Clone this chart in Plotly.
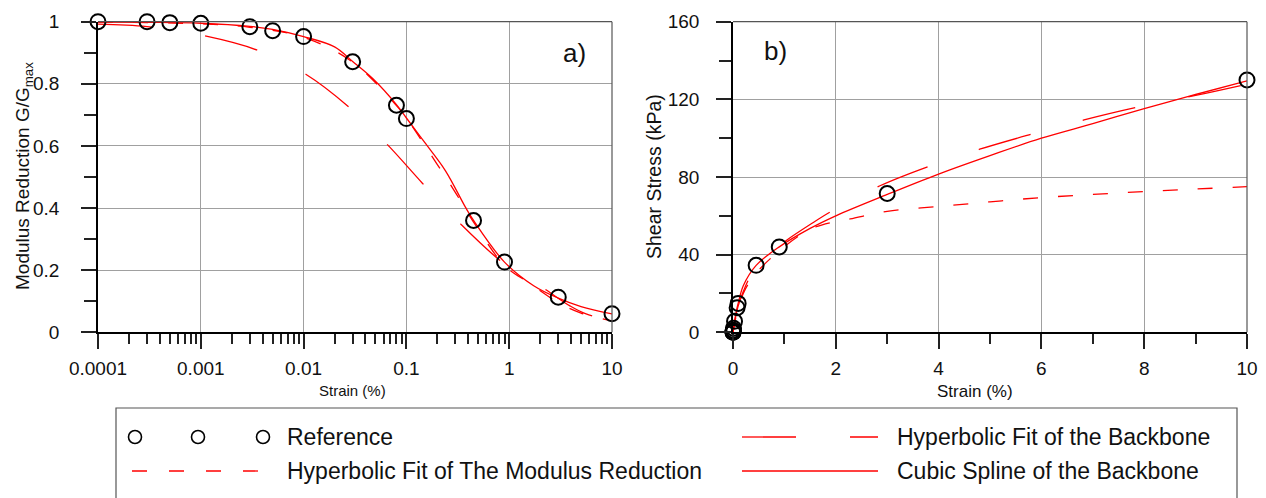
import plotly.graph_objects as go

# ---------------- data ----------------
strain_ref = [0.0001, 0.0003, 0.0005, 0.001, 0.003, 0.005, 0.01, 0.03, 0.08, 0.1, 0.45, 0.9, 3, 10]
ggmax_ref = [1.0, 1.0, 0.997, 0.995, 0.984, 0.971, 0.952, 0.871, 0.731, 0.688, 0.360, 0.226, 0.113, 0.060]
stress_ref = [0.02, 0.065, 0.11, 0.22, 0.64, 1.05, 2.1, 5.7, 12.7, 14.9, 34.5, 44.0, 71.5, 130.0]

# cubic spline of the backbone, shown as modulus reduction (panel a)
spline_strain_a = [0.0001, 0.0003, 0.001, 0.003, 0.005, 0.01, 0.02, 0.03, 0.047, 0.08, 0.1,
                   0.15, 0.24, 0.375, 0.45, 0.9, 1.73, 3.0, 5.0, 10]
spline_ggmax_a = [0.999, 0.998, 0.995, 0.985, 0.975, 0.952, 0.919, 0.872, 0.817, 0.733, 0.690,
                  0.612, 0.520, 0.403, 0.360, 0.226, 0.150, 0.110, 0.083, 0.059]

# hyperbolic fit of the backbone (panel a)
bb_strain_a = [0.0001, 0.0003, 0.001, 0.0035, 0.0105, 0.027, 0.065, 0.143, 0.336, 0.9,
               2.2, 3.9, 5.6, 10]
bb_ggmax_a = [0.992, 0.984, 0.957, 0.909, 0.831, 0.728, 0.605, 0.480, 0.349, 0.220,
              0.140, 0.085, 0.059, 0.040]

# hyperbolic fit of the modulus reduction (panel a)
md_strain_a = [0.0001, 0.001, 0.003, 0.01, 0.03, 0.08, 0.1, 0.2, 0.3, 0.45, 0.9, 1.58, 3, 5, 10]
md_ggmax_a = [0.999, 0.993, 0.982, 0.950, 0.870, 0.730, 0.690, 0.540, 0.450, 0.355, 0.215,
              0.158, 0.096, 0.062, 0.037]

# cubic spline of the backbone (panel b)
spline_strain_b = [0, 0.03, 0.08, 0.1, 0.2, 0.45, 0.9, 1.5, 2, 3, 4, 5, 6, 7, 8, 9, 10]
spline_stress_b = [0, 5.6, 12.7, 14.9, 24, 34.5, 44, 53.5, 60, 71, 81.5, 91, 100, 107.5, 115.2, 122.5, 129.5]

# hyperbolic fit of the backbone (panel b)
bb_strain_b = [0, 0.05, 0.1, 0.2, 0.3, 0.5, 0.75, 1.03, 1.5, 1.9, 2.86, 3.8, 4.8, 5.8, 6.83, 7.84, 9.0, 10]
bb_stress_b = [0, 8, 13.5, 21, 27, 35, 41.5, 47.2, 55.5, 62.1, 75.5, 85.4, 94.3, 102.0, 109.4, 115.8, 122, 127.8]

# hyperbolic fit of the modulus reduction (panel b)
md_strain_b = [0, 0.05, 0.1, 0.2, 0.3, 0.5, 0.9, 1.3, 1.58, 1.93, 2.28, 3.0, 4.0, 5.0, 6.0, 7.0, 8.0, 9.0, 10]
md_stress_b = [0, 7, 12.5, 20, 25, 32, 42, 50, 54, 56.7, 58.4, 62.3, 64.8, 67.2, 69.4, 71.0, 72.5, 73.8, 75.0]

log_ticks = [0.0001, 0.001, 0.01, 0.1, 1, 10]
log_ticktext = ["0.0001", "0.001", "0.01", "0.1", "1", "10"]

legend_labels = ["Reference", "Hyperbolic Fit of the Backbone",
                 "Hyperbolic Fit of The Modulus Reduction", "Cubic Spline of the Backbone"]

# ---------------- styling ----------------
# the page body has an 8px margin, so the figure is 8px smaller and all
# reference pixel positions are converted with that offset
OFF = 8
W, H = 1266 - OFF, 498 - OFF
FONT = "Liberation Sans, Arial, sans-serif"
RED = "#ff0000"
LW = 1.3
LONG_DASH = "54px,54px"
SHORT_DASH = "15px,20px"
GRID = "#a0a0a0"
INK = "#111"


def px(x):
    return (x - OFF) / W


def py(y):
    return 1 - (y - OFF) / H


fig = go.Figure()

# ----- panel a -----
fig.add_trace(go.Scatter(x=md_strain_a, y=md_ggmax_a, mode="lines", line=dict(color=RED, width=LW, dash=SHORT_DASH, shape="spline"),
                         xaxis="x", yaxis="y", showlegend=False))
fig.add_trace(go.Scatter(x=bb_strain_a, y=bb_ggmax_a, mode="lines", line=dict(color=RED, width=LW, dash=LONG_DASH, shape="spline"),
                         xaxis="x", yaxis="y", showlegend=False))
fig.add_trace(go.Scatter(x=spline_strain_a, y=spline_ggmax_a, mode="lines", line=dict(color=RED, width=LW, shape="spline"),
                         xaxis="x", yaxis="y", showlegend=False))
fig.add_trace(go.Scatter(x=strain_ref, y=ggmax_ref, mode="markers", cliponaxis=False,
                         marker=dict(symbol="circle-open", size=15, color="black", line=dict(width=2, color="black")),
                         xaxis="x", yaxis="y", showlegend=False))

# ----- panel b -----
fig.add_trace(go.Scatter(x=md_strain_b, y=md_stress_b, mode="lines", line=dict(color=RED, width=LW, dash=SHORT_DASH, shape="spline"),
                         xaxis="x2", yaxis="y2", showlegend=False))
fig.add_trace(go.Scatter(x=bb_strain_b, y=bb_stress_b, mode="lines", line=dict(color=RED, width=LW, dash=LONG_DASH, shape="spline"),
                         xaxis="x2", yaxis="y2", showlegend=False))
fig.add_trace(go.Scatter(x=spline_strain_b, y=spline_stress_b, mode="lines", line=dict(color=RED, width=LW, shape="spline"),
                         xaxis="x2", yaxis="y2", showlegend=False))
fig.add_trace(go.Scatter(x=strain_ref, y=stress_ref, mode="markers", cliponaxis=False,
                         marker=dict(symbol="circle-open", size=15, color="black", line=dict(width=2, color="black")),
                         xaxis="x2", yaxis="y2", showlegend=False))

tickfont = dict(family=FONT, size=19, color=INK)
common_axis = dict(showline=True, linecolor="black", linewidth=1.5, ticks="outside", ticklen=15,
                   tickwidth=1.5, tickcolor="#222", showgrid=True, gridcolor=GRID, gridwidth=1,
                   zeroline=False, tickfont=tickfont, automargin=False)

ydom = [py(332.3), py(21.7)]
minor_log = [m * 10 ** e for e in range(-4, 1) for m in range(2, 10)]
minor_style = dict(ticks="outside", tickwidth=1.5, tickcolor="#222", showgrid=False)

fig.update_layout(
    width=W, height=H, autosize=False, margin=dict(l=0, r=0, t=0, b=0, pad=0),
    paper_bgcolor="white", plot_bgcolor="white", showlegend=False,
    xaxis=dict(common_axis, type="log", range=[-4, 1], domain=[px(98), px(612)], anchor="y",
               tickmode="array", tickvals=log_ticks, ticktext=log_ticktext, ticklabelstandoff=3,
               minor=dict(minor_style, tickvals=minor_log, ticklen=10)),
    yaxis=dict(common_axis, range=[0, 1], domain=ydom, anchor="x", dtick=0.2, tickformat="~g",
               ticklabelstandoff=18, minor=dict(minor_style, dtick=0.1, ticklen=12)),
    xaxis2=dict(common_axis, range=[0, 10], domain=[px(733), px(1247)], anchor="y2", dtick=2,
                ticklabelstandoff=3, minor=dict(minor_style, dtick=1, ticklen=10)),
    yaxis2=dict(common_axis, range=[0, 160], domain=ydom, anchor="x2", dtick=40,
                ticklabelstandoff=13, minor=dict(minor_style, dtick=20, ticklen=12)),
)

shapes = []
# frame top/right edges
for xr, yr in (("x", "y"), ("x2", "y2")):
    shapes.append(dict(type="line", xref=f"{xr} domain", yref=f"{yr} domain", x0=0, x1=1, y0=1, y1=1,
                       line=dict(color="#555", width=1.2)))
    shapes.append(dict(type="line", xref=f"{xr} domain", yref=f"{yr} domain", x0=1, x1=1, y0=0, y1=1,
                       line=dict(color="#555", width=1.2)))

# legend box
shapes.append(dict(type="rect", xref="paper", yref="paper", x0=px(116), x1=px(1237), y0=py(530), y1=py(408),
                   line=dict(color="#555", width=1.2), fillcolor="rgba(0,0,0,0)"))
row1, row2 = 437, 471
for cx in (135, 198, 263):
    r = 6.5
    shapes.append(dict(type="circle", xref="paper", yref="paper", x0=px(cx - r), x1=px(cx + r),
                       y0=py(row1 + r), y1=py(row1 - r), line=dict(color="black", width=1.6)))
shapes.append(dict(type="line", xref="paper", yref="paper", x0=px(742), x1=px(878), y0=py(row1), y1=py(row1),
                   line=dict(color=RED, width=LW, dash=LONG_DASH)))
shapes.append(dict(type="line", xref="paper", yref="paper", x0=px(132), x1=px(258), y0=py(row2), y1=py(row2),
                   line=dict(color=RED, width=LW, dash="15px,22px")))
shapes.append(dict(type="line", xref="paper", yref="paper", x0=px(742), x1=px(878), y0=py(row2), y1=py(row2),
                   line=dict(color=RED, width=LW)))

annotations = []
legfont = dict(family=FONT, size=23, color=INK)
for text, x, y in ((legend_labels[0], 285, row1), (legend_labels[1], 895, row1),
                   (legend_labels[2], 285, row2), (legend_labels[3], 895, row2)):
    annotations.append(dict(text=text, xref="paper", yref="paper", x=px(x), y=py(y), xanchor="left",
                            yanchor="middle", showarrow=False, font=legfont))

# panel labels
annotations.append(dict(text="a)", xref="paper", yref="paper", x=px(574), y=py(53), xanchor="center", yanchor="middle",
                        showarrow=False, font=dict(family=FONT, size=26, color=INK)))
annotations.append(dict(text="b)", xref="paper", yref="paper", x=px(775), y=py(51), xanchor="center", yanchor="middle",
                        showarrow=False, font=dict(family=FONT, size=26, color=INK)))

# axis titles
annotations.append(dict(text="Modulus Reduction G/G<sub>max</sub>", xref="paper", yref="paper", x=px(24), y=py(176),
                        xanchor="center", yanchor="middle", textangle=-90, showarrow=False,
                        font=dict(family=FONT, size=19, color=INK)))
annotations.append(dict(text="Shear Stress (kPa)", xref="paper", yref="paper", x=px(654), y=py(177),
                        xanchor="center", yanchor="middle", textangle=-90, showarrow=False,
                        font=dict(family=FONT, size=19.5, color=INK)))
annotations.append(dict(text="Strain (%)", xref="paper", yref="paper", x=px(352), y=py(390),
                        xanchor="center", yanchor="middle", showarrow=False,
                        font=dict(family=FONT, size=15, color=INK)))
annotations.append(dict(text="Strain (%)", xref="paper", yref="paper", x=px(975), y=py(391),
                        xanchor="center", yanchor="middle", showarrow=False,
                        font=dict(family=FONT, size=17, color=INK)))

fig.update_layout(shapes=shapes, annotations=annotations)

fig.write_html("out.html")
